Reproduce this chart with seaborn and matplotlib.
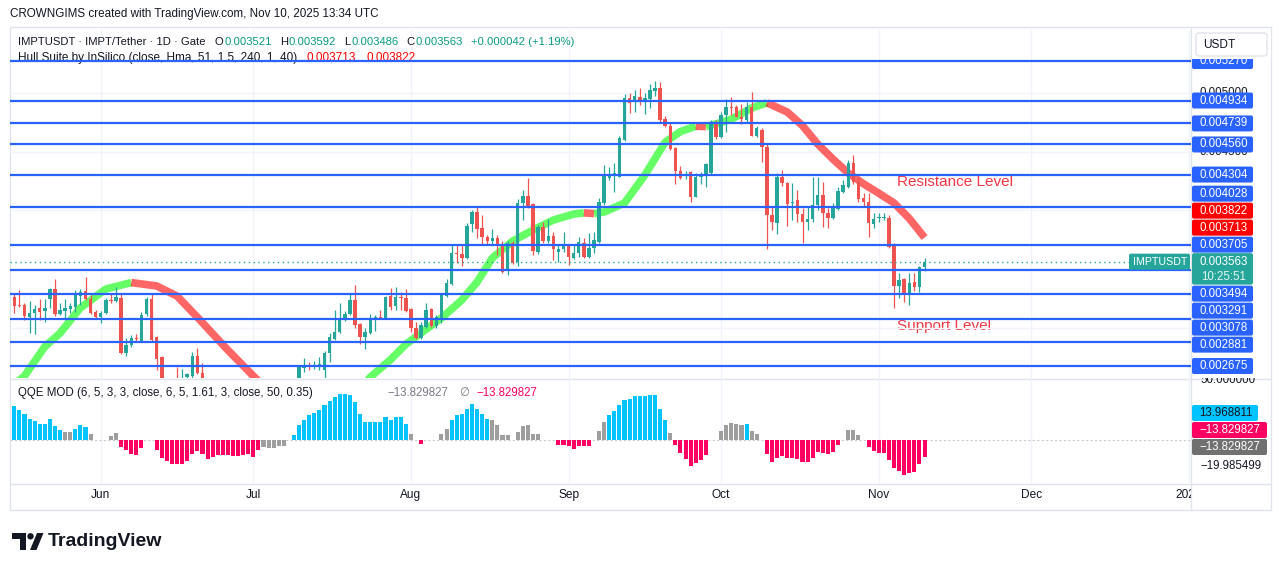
import numpy as np
import pandas as pd
import matplotlib
matplotlib.use("Agg")
import matplotlib.pyplot as plt
import matplotlib.dates as mdates
from matplotlib.patches import FancyBboxPatch, Rectangle, Circle, Polygon
import seaborn as sns

# ---------------- data ----------------
# IMPT/USDT daily candles, prices x 1000
dates = pd.date_range("2025-05-15", "2025-11-10", freq="D")

open_k = [3.262, 3.196, 3.194, 3.091, 3.125, 3.168, 3.143, 3.245, 3.330, 3.117,
          3.143, 3.160, 3.177, 3.270, 3.313, 3.245, 3.134, 3.091, 3.125, 3.236,
          3.228, 3.253, 2.785, 2.853, 2.913, 2.887, 3.117, 3.245, 2.921, 2.751,
          2.513, 2.450, 2.550, 2.440, 2.581, 2.589, 2.760, 2.615, 2.500, 2.420,
          2.450, 2.380, 2.400, 2.360, 2.330, 2.350, 2.310, 2.340, 2.290, 2.320,
          2.360, 2.330, 2.370, 2.400, 2.380, 2.440, 2.530, 2.658, 2.677, 2.666,
          2.666, 2.641, 2.785, 2.904, 2.964, 3.074, 3.117, 3.236, 3.032, 2.921,
          2.955, 3.074, 3.091, 3.083, 3.270, 3.185, 3.262, 3.253, 3.160, 2.998,
          2.913, 3.006, 3.160, 3.015, 3.083, 3.270, 3.372, 3.636, 3.628, 3.594,
          3.883, 3.985, 3.849, 3.772, 3.738, 3.764, 3.713, 3.500, 3.721, 3.560,
          4.062, 4.121, 4.053, 3.645, 3.858, 3.738, 3.781, 3.645, 3.670, 3.696,
          3.594, 3.636, 3.721, 3.602, 3.679, 3.730, 4.062, 4.274, 4.291, 4.283,
          4.598, 4.955, 4.921, 4.964, 4.938, 4.947, 5.015, 5.040, 4.776, 4.717,
          4.530, 4.334, 4.291, 4.325, 4.113, 4.283, 4.291, 4.317, 4.751, 4.623,
          4.810, 4.878, 4.878, 4.793, 4.768, 4.878, 4.632, 4.683, 4.538, 3.960,
          3.892, 4.283, 4.232, 4.062, 4.087, 3.968, 3.900, 3.925, 4.045, 4.130,
          3.977, 3.934, 4.011, 4.155, 4.198, 4.402, 4.240, 4.104, 4.070, 3.883,
          3.934, 3.934, 3.934, 3.704, 3.355, 3.415, 3.296, 3.389, 3.347, 3.521]

high_k = [3.296, 3.321, 3.211, 3.228, 3.194, 3.245, 3.245, 3.338, 3.415, 3.211,
          3.245, 3.211, 3.321, 3.330, 3.432, 3.279, 3.151, 3.143, 3.253, 3.296,
          3.347, 3.296, 2.913, 2.938, 2.947, 3.134, 3.262, 3.296, 2.930, 2.760,
          2.550, 2.520, 2.666, 2.649, 2.615, 2.793, 2.828, 2.700, 2.530, 2.490,
          2.470, 2.440, 2.430, 2.400, 2.390, 2.370, 2.380, 2.360, 2.350, 2.400,
          2.390, 2.410, 2.440, 2.450, 2.480, 2.550, 2.675, 2.743, 2.709, 2.717,
          2.751, 2.802, 2.955, 3.151, 3.211, 3.143, 3.287, 3.364, 3.040, 2.998,
          3.117, 3.109, 3.151, 3.270, 3.338, 3.347, 3.304, 3.330, 3.168, 3.049,
          3.049, 3.211, 3.168, 3.109, 3.296, 3.415, 3.704, 3.704, 3.704, 3.892,
          4.002, 4.027, 3.960, 3.789, 3.840, 3.789, 3.738, 3.738, 3.738, 4.096,
          4.172, 4.274, 4.062, 3.874, 3.900, 3.925, 3.815, 3.713, 3.815, 3.713,
          3.713, 3.772, 3.764, 3.806, 3.815, 4.104, 4.385, 4.368, 4.402, 4.632,
          4.989, 4.998, 5.023, 5.040, 4.998, 5.074, 5.100, 5.091, 4.802, 4.751,
          4.540, 4.376, 4.334, 4.334, 4.317, 4.325, 4.400, 4.768, 4.768, 4.836,
          4.947, 4.964, 4.895, 4.904, 4.921, 5.006, 4.717, 4.700, 4.572, 4.028,
          4.317, 4.342, 4.240, 4.232, 4.172, 4.019, 4.028, 4.283, 4.283, 4.240,
          4.019, 4.062, 4.198, 4.257, 4.428, 4.470, 4.283, 4.147, 4.147, 3.977,
          3.977, 3.977, 3.960, 3.721, 3.466, 3.423, 3.466, 3.466, 3.530, 3.592]

low_k = [3.125, 3.177, 3.066, 2.955, 2.947, 3.066, 3.049, 3.168, 3.100, 3.109,
         3.066, 3.125, 3.134, 3.194, 3.236, 3.120, 3.083, 3.040, 3.117, 3.211,
         3.219, 2.780, 2.760, 2.836, 2.879, 2.879, 3.100, 2.887, 2.641, 2.470,
         2.400, 2.360, 2.400, 2.410, 2.540, 2.540, 2.607, 2.460, 2.390, 2.380,
         2.350, 2.340, 2.320, 2.300, 2.290, 2.270, 2.280, 2.250, 2.260, 2.300,
         2.310, 2.310, 2.350, 2.350, 2.360, 2.420, 2.510, 2.624, 2.641, 2.649,
         2.641, 2.565, 2.709, 2.896, 2.955, 3.057, 3.109, 2.998, 2.862, 2.819,
         2.950, 2.972, 3.074, 3.078, 3.151, 3.151, 3.151, 3.134, 2.964, 2.908,
         2.904, 3.000, 3.006, 2.998, 3.040, 3.262, 3.364, 3.551, 3.526, 3.589,
         3.815, 3.764, 3.704, 3.713, 3.704, 3.619, 3.470, 3.449, 3.545, 3.526,
         3.917, 4.019, 3.619, 3.628, 3.721, 3.721, 3.577, 3.560, 3.645, 3.534,
         3.589, 3.602, 3.594, 3.597, 3.636, 3.725, 4.045, 4.257, 4.155, 4.280,
         4.589, 4.827, 4.836, 4.896, 4.819, 4.870, 4.972, 4.751, 4.708, 4.513,
         4.223, 4.266, 4.266, 4.070, 4.110, 4.223, 4.198, 4.310, 4.606, 4.615,
         4.666, 4.810, 4.790, 4.734, 4.742, 4.629, 4.623, 4.410, 3.670, 3.832,
         3.798, 4.206, 3.866, 3.917, 3.900, 3.721, 3.832, 3.900, 4.002, 3.858,
         3.849, 3.925, 4.002, 4.147, 4.190, 4.223, 4.070, 4.028, 3.772, 3.849,
         3.900, 3.917, 3.679, 3.168, 3.253, 3.219, 3.194, 3.313, 3.304, 3.486]

close_k = [3.185, 3.186, 3.100, 3.125, 3.160, 3.134, 3.168, 3.330, 3.117, 3.151,
           3.168, 3.185, 3.296, 3.304, 3.245, 3.125, 3.091, 3.125, 3.236, 3.228,
           3.262, 2.785, 2.853, 2.913, 2.904, 3.109, 3.245, 2.896, 2.734, 2.513,
           2.450, 2.420, 2.440, 2.530, 2.607, 2.760, 2.615, 2.500, 2.420, 2.450,
           2.380, 2.400, 2.360, 2.330, 2.350, 2.310, 2.340, 2.290, 2.320, 2.360,
           2.330, 2.370, 2.400, 2.380, 2.440, 2.520, 2.666, 2.683, 2.670, 2.683,
           2.692, 2.785, 2.921, 2.964, 3.083, 3.117, 3.236, 3.023, 2.921, 2.964,
           3.083, 3.091, 3.083, 3.262, 3.177, 3.262, 3.253, 3.143, 3.000, 2.913,
           3.023, 3.151, 3.015, 3.091, 3.287, 3.381, 3.636, 3.628, 3.594, 3.866,
           3.985, 3.840, 3.772, 3.738, 3.764, 3.704, 3.475, 3.721, 3.551, 4.062,
           4.121, 4.036, 3.653, 3.858, 3.738, 3.781, 3.670, 3.670, 3.696, 3.602,
           3.636, 3.730, 3.602, 3.679, 3.747, 4.070, 4.300, 4.300, 4.317, 4.615,
           4.955, 4.913, 4.972, 4.938, 4.955, 5.023, 5.040, 4.768, 4.717, 4.521,
           4.334, 4.274, 4.308, 4.113, 4.283, 4.300, 4.393, 4.751, 4.623, 4.810,
           4.878, 4.870, 4.793, 4.776, 4.878, 4.632, 4.700, 4.538, 3.960, 3.900,
           4.283, 4.232, 4.053, 4.070, 3.968, 3.900, 3.925, 4.045, 4.130, 3.977,
           3.934, 4.019, 4.164, 4.215, 4.402, 4.240, 4.096, 4.070, 3.892, 3.925,
           3.943, 3.943, 3.687, 3.355, 3.406, 3.296, 3.381, 3.347, 3.517, 3.563]

# Hull Suite band centre at some candles (x 1000)
hull_idx = [0, 2, 6, 9, 13, 18, 23, 28, 32, 36, 42, 47, 52, 56, 60, 62, 66, 70,
            74, 77, 80, 84, 88, 91, 94, 98, 102, 106, 110, 112, 114, 116, 120,
            124, 128, 131, 134, 136, 138, 141, 145, 148, 152, 155, 158, 161, 164,
            167, 170, 173, 176, 179]
hull_k = [2.52, 2.59, 2.84, 2.955, 3.17, 3.33, 3.385, 3.356, 3.270, 3.09, 2.81,
          2.59, 2.38, 2.29, 2.25, 2.24, 2.36, 2.58, 2.73, 2.86, 2.956, 3.083,
          3.236, 3.389, 3.594, 3.738, 3.832, 3.917, 3.968, 3.978, 3.972, 3.985,
          4.062, 4.300, 4.580, 4.670, 4.715, 4.712, 4.735, 4.775, 4.870, 4.915,
          4.836, 4.720, 4.563, 4.435, 4.317, 4.225, 4.145, 4.062, 3.930, 3.768]

levels = [0.005270, 0.004934, 0.004739, 0.004560, 0.004304, 0.004028,
          0.003705, 0.003494, 0.003291, 0.003078, 0.002881, 0.002675]
hull_last = [0.003713, 0.003822]
last_price = 0.003563
price_ticks = [0.0030, 0.0035, 0.0040, 0.0045, 0.0050]
shown_ticks = [0.0045, 0.0050]

# QQE MOD histogram, one value per candle; c=cyan, p=pink, g=grey, -=none
qqe_vals = [27.6, 24.4, 21.7, 17.6, 15.5, 13.6, 13.6, 17.1, 11.7, 8.1,
            6.8, 6.8, 9.5, 12.2, 10.8, 4.9, 0, 0, 0, 3.3,
            6.2, -5.4, -8.1, -11.4, -12.2, -6.2, 0, 0, -8.1, -14.1,
            -16.8, -19.0, -19.0, -19.0, -16.8, -11.4, -8.9, -10.8, -14.9, -13.6,
            -12.2, -12.2, -12.2, -13.0, -13.0, -12.2, -10.8, -13.6, -8.1, -5.4,
            -6.2, -6.2, -4.6, -4.9, 0, 4.1, 12.2, 16.8, 20.3, 22.5,
            24.4, 28.5, 32.0, 35.2, 37.4, 37.4, 36.6, 31.2, 21.1, 14.9,
            14.9, 14.9, 14.9, 19.0, 16.8, 19.0, 19.0, 13.6, 4.9, 0,
            -3.2, 0, 0, 0, 4.9, 9.5, 16.3, 20.3, 21.7, 25.7,
            29.3, 25.7, 21.7, 17.6, 16.3, 12.2, 4.1, 4.1, 0, 6.8,
            11.4, 12.2, 5.4, 5.4, 0, 0, 0, -3.5, -3.5, -4.6,
            -6.8, -4.6, -4.6, -4.6, 0, 7.3, 14.9, 20.3, 23.6, 28.5,
            32.5, 33.9, 35.8, 35.8, 35.8, 36.6, 36.6, 25.7, 16.3, 6.2,
            -4.1, -10.3, -15.4, -20.9, -18.4, -16.3, -12.2, 0, 0, 7.3,
            12.2, 14.4, 13.0, 12.2, 13.6, 7.3, 4.9, 0, -11.4, -17.6,
            -14.4, -13.0, -14.1, -14.1, -15.4, -17.6, -17.6, -14.4, -9.5, -10.3,
            -10.8, -9.5, -4.1, 0, 8.1, 8.1, 4.1, 0, -5.4, -8.7,
            -10.3, -10.3, -15.7, -22.2, -24.9, -27.9, -26.6, -25.7, -18.9, -13.83]
qqe_code = ("cccccccccc" "ggcccg---g" "gppppp--pp" "pppppppppp" "pppppppppg"
            "gggg-ccccc" "cccccccccc" "ccccccccg-" "p---ggcccc" "ccccgggg-g"
            "gggg---ppp" "pppp-ggccc" "cccccccccg" "ppppppp--g" "ggggcgg-pp"
            "pppppppppp" "ppp-ggg-pp" "pppppppppp")
qqe_ticks = [50.0, -19.985499]
qqe_labels = ["13.968811", "\u221213.829827", "\u221213.829827"]

months = pd.to_datetime(["2025-06-01", "2025-07-01", "2025-08-01", "2025-09-01",
                         "2025-10-01", "2025-11-01", "2025-12-01", "2026-01-01"])
month_names = ["Jun", "Jul", "Aug", "Sep", "Oct", "Nov", "Dec", "2026"]

assert len(open_k) == len(high_k) == len(low_k) == len(close_k) == len(dates) == 180
assert len(qqe_vals) == len(qqe_code) == 180 and len(hull_idx) == len(hull_k)

# ---------------- style ----------------
UP, DN, BLUE = "#26a69a", "#ef5350", "#2962ff"
INK, GRID, FRAME = "#131722", "#f0f3fa", "#e0e3eb"
QCOL = {"c": "#00c3ff", "p": "#ff0062", "g": "#9e9e9e"}

sns.set_theme(style="white")
plt.rcParams["font.family"] = ["Liberation Sans", "DejaVu Sans"]

W, H = 1281, 571
fig = plt.figure(figsize=(W / 100, H / 100), dpi=100)


def px_axes(x0, y0, x1, y1, z=0):
    a = fig.add_axes([x0 / W, 1 - y1 / H, (x1 - x0) / W, (y1 - y0) / H], zorder=z)
    a.set_facecolor("none")
    for s in a.spines.values():
        s.set_visible(False)
    a.set_xticks([])
    a.set_yticks([])
    return a


bg = px_axes(0, 0, W, H, z=-1)
bg.set_xlim(0, W); bg.set_ylim(H, 0)
ax = px_axes(10, 30, 1191, 378)
axq = px_axes(10, 378, 1191, 483)
axt = px_axes(10, 483, 1191, 510)
arp = px_axes(1191, 30, 1271, 378, z=1)
arp.set_xlim(1191, 1271); arp.set_ylim(378, 30)
arq = px_axes(1191, 378, 1271, 483, z=1)
arq.set_xlim(1191, 1271); arq.set_ylim(483, 378)
top = px_axes(0, 0, W, H, z=5)
top.set_xlim(0, W); top.set_ylim(H, 0)

xd = mdates.date2num(dates)
xl = (xd[0] - 0.85, xd[0] + 231.4)
for a in (ax, axq, axt):
    a.set_xlim(*xl)
ax.set_ylim(0.002573, 0.005534)
axq.set_ylim(-34.7, 50.65)
axt.set_ylim(0, 1)

# grid
for m in mdates.date2num(months):
    ax.axvline(m, color=GRID, lw=1, zorder=0)
    axq.axvline(m, color=GRID, lw=1, zorder=0)
for p in price_ticks:
    ax.axhline(p, color=GRID, lw=1, zorder=0)

# Hull band, coloured by direction
hx = xd[0] + np.array(hull_idx)
hv = np.array(hull_k) / 1000
d = np.sign(np.diff(hv))
s = 0
for k in range(1, len(d) + 1):
    if k == len(d) or d[k] != d[s]:
        col = "#00ff00" if d[s] > 0 else "#ff0000"
        sns.lineplot(x=hx[s:k + 1], y=hv[s:k + 1], ax=ax, color=col, alpha=0.6,
                     linewidth=5.5, sort=False, estimator=None,
                     solid_capstyle="butt", zorder=2)
        s = k
ax.set_xlabel(""); ax.set_ylabel("")

# candles
o = np.array(open_k) / 1000
h = np.array(high_k) / 1000
l = np.array(low_k) / 1000
c = np.array(close_k) / 1000
cc = np.where(c >= o, UP, DN)
ax.vlines(xd, l, h, colors=cc, lw=0.9, zorder=3)
ax.bar(xd, np.maximum(np.abs(c - o), 9e-6), bottom=np.minimum(o, c), width=0.68,
       color=cc, linewidth=0, zorder=3)

# levels and last price
for lv in levels:
    ax.axhline(lv, color=BLUE, lw=1.6, zorder=4)
ax.axhline(last_price, color=UP, lw=1, ls=(0, (1, 2.5)), zorder=4)

# QQE histogram
qv = np.array(qqe_vals)
keep = np.array([ch != "-" for ch in qqe_code])
axq.bar(xd[keep], qv[keep], width=0.8, linewidth=0, zorder=2,
        color=[QCOL[ch] for ch in qqe_code if ch != "-"])
axq.axhline(0, color="#c9ccd4", lw=0.8, ls=(0, (2, 2)), zorder=1)

# time axis
for m, name in zip(mdates.date2num(months), month_names):
    axt.text(m, 0.55, name, ha="center", va="center", fontsize=8.6, color=INK,
             clip_on=True)

# frame
for (x0, y0, x1, y1) in [(10, 378.5, 1271, 378.5), (10, 483.5, 1271, 483.5),
                         (10, 510, 1271, 510), (10, 27, 1271, 27),
                         (10, 27, 10, 510), (1191, 27, 1191, 510),
                         (1271, 27, 1271, 510)]:
    bg.plot([x0, x1], [y0, y1], color=FRAME, lw=1, zorder=0)

# right price scale
def py(p):
    return H - ax.transData.transform((xd[0], p))[1]


def qy(v):
    return H - axq.transData.transform((xd[0], v))[1]


for p in shown_ticks:
    arp.text(1200, py(p), f"{p:.6f}", ha="left", va="center", fontsize=8.3,
             color=INK, zorder=1, clip_on=True)

labels = [(p, BLUE) for p in levels] + [(p, "#ff0000") for p in hull_last]
cy = py(last_price)
ctop = cy - 8.5
placed = []
lim = ctop
for p, col in sorted([q for q in labels if py(q[0]) < cy], key=lambda q: -py(q[0])):
    yc = min(py(p), lim - 8.5)
    lim = yc - 8.5
    placed.append((yc, p, col))
lim = ctop + 32
for p, col in sorted([q for q in labels if py(q[0]) >= cy], key=lambda q: py(q[0])):
    yc = max(py(p), lim + 8.5)
    lim = yc + 8.5
    placed.append((yc, p, col))

for yc, p, col in placed:
    arp.add_patch(FancyBboxPatch((1192, yc - 8), 61, 16,
                                 boxstyle="round,pad=0,rounding_size=2",
                                 fc=col, ec="none", zorder=2))
    arp.text(1200, yc, f"{p:.6f}", ha="left", va="center", fontsize=8.3,
             color="white", zorder=3, clip_on=True)

arp.add_patch(FancyBboxPatch((1192, ctop), 61, 31.5,
                             boxstyle="round,pad=0,rounding_size=2",
                             fc=UP, ec="none", zorder=2))
arp.text(1200, cy, f"{last_price:.6f}", ha="left", va="center", fontsize=8.3,
         color="white", zorder=3)
arp.text(1201, cy + 15, "10:25:51", ha="left", va="center", fontsize=8.3,
         color="#e6f5f3", zorder=3)

# currency button covers the top label
arp.add_patch(Rectangle((1192, 30), 79, 28.5, fc="white", ec="none", zorder=4))
arp.add_patch(FancyBboxPatch((1196, 33), 71, 23, boxstyle="round,pad=0,rounding_size=3",
                             fc="white", ec=FRAME, lw=1, zorder=5))
arp.text(1203, 44.5, "USDT", ha="left", va="center", fontsize=8.6, color=INK, zorder=6)

# symbol tag at the last price
top.add_patch(FancyBboxPatch((1129, cy - 8), 61, 16, boxstyle="round,pad=0,rounding_size=2",
                             fc=UP, ec="none"))
top.text(1133, cy, "IMPTUSDT", ha="left", va="center", fontsize=7.7, color="white")

# QQE scale labels
for v in qqe_ticks:
    arq.text(1200, qy(v) + 1.5, f"{v:.6f}".replace("-", "\u2212"), ha="left",
             va="center", fontsize=8.3, color=INK, zorder=1, clip_on=True)
for row, txt, fc, tc, wd in zip([413, 430, 447], qqe_labels,
                                [QCOL["c"], QCOL["p"], "#707070"],
                                [INK, "white", "white"], [66, 75, 75]):
    arq.add_patch(FancyBboxPatch((1192, row - 8), wd, 16,
                                 boxstyle="round,pad=0,rounding_size=2",
                                 fc=fc, ec="none", zorder=2))
    arq.text(1199, row, txt, ha="left", va="center", fontsize=8.3, color=tc, zorder=3)

# legend texts (drawn above the grid, below the level lines)
renderer = fig.canvas.get_renderer()


def run(target, x, y, parts, size, z):
    for txt, col, gap in parts:
        t = target.text(x, y, txt, color=col, fontsize=size, ha="left", va="center",
                        transform=bg.transData, zorder=z, clip_on=False)
        x += t.get_window_extent(renderer).width + gap


VAL = "#089981"
bg.text(10, 14, "CROWNGIMS created with TradingView.com, Nov 10, 2025 13:34 UTC",
        fontsize=8.4, color=INK, ha="left", va="center")
run(ax, 18, 42, [("IMPTUSDT \u00b7 IMPT/Tether \u00b7 1D \u00b7 Gate", INK, 9),
                 ("O", INK, 1), ("0.003521", VAL, 8),
                 ("H", INK, 1), ("0.003592", VAL, 8),
                 ("L", INK, 1), ("0.003486", VAL, 8),
                 ("C", INK, 1), ("0.003563", VAL, 8),
                 ("+0.000042 (+1.19%)", VAL, 0)], 8.1, 1)
run(ax, 18, 58, [("Hull Suite by InSilico (close, Hma, 51, 1.5, 240, 1, 40)", INK, 9),
                 ("0.003713", "#ff0000", 11), ("0.003822", "#ff0000", 0)], 8.5, 1)
run(axq, 18, 393, [("QQE MOD (6, 5, 3, 3, close, 6, 5, 1.61, 3, close, 50, 0.35)", INK, 75),
                   ("\u221213.829827", "#787b86", 10), ("\u2205", "#787b86", 8),
                   ("\u221213.829827", "#ff0062", 0)], 8.3, 5)

# annotations
bg.text(897, 182, "Resistance Level", color="#f23645", fontsize=11,
        ha="left", va="center")
bg.text(897, 326, "Support Level", color="#f23645", fontsize=11,
        ha="left", va="center")

# TradingView logo
bg.add_patch(Rectangle((12, 533), 14, 5.5, fc=INK, ec="none"))
bg.add_patch(Rectangle((19.5, 533), 6.5, 17, fc=INK, ec="none"))
bg.add_patch(Circle((30.5, 536.3), 3.2, fc=INK, ec="none"))
bg.add_patch(Polygon([(30, 550), (36.5, 550), (43.5, 533), (37, 533)], fc=INK, ec="none"))
bg.text(48, 541.5, "TradingView", fontsize=14, fontweight="bold", color=INK,
        ha="left", va="center")

fig.savefig("out.png", dpi=100)
